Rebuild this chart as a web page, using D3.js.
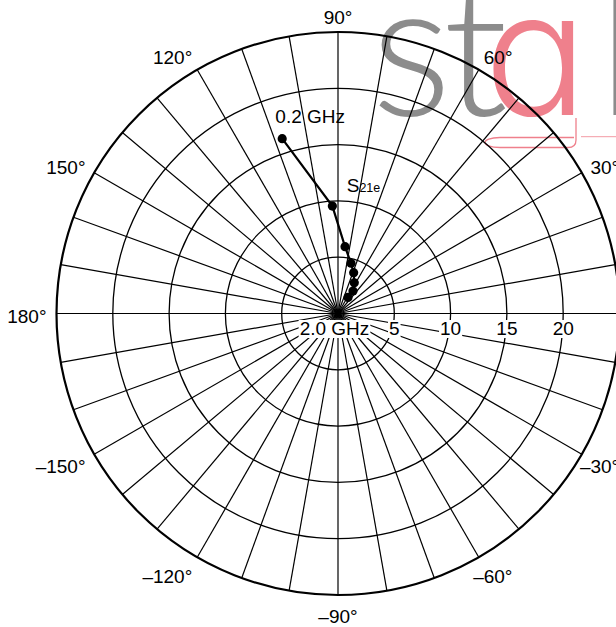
<!DOCTYPE html>
<html>
<head>
<meta charset="utf-8">
<script src="https://cdn.jsdelivr.net/npm/d3@7"></script>
<style>
  html, body { margin: 0; padding: 0; background: #fff; }
  svg { display: block; }
  text { font-family: "Liberation Sans", Arial, Helvetica, sans-serif; fill: #000; }
</style>
</head>
<body>
<div id="chart"></div>
<script>
// S21e vs frequency (magnitude, angle in degrees)
const freqGHz = [0.2, 0.4, 0.6, 0.8, 1.0, 1.2, 1.5, 2.0];
const s21Mag  = [16.3, 9.55, 5.97, 4.61, 3.88, 3.09, 2.40, 1.68];
const s21Ang  = [107.7, 93.0, 84.0, 75.5, 69.0, 62.1, 56.3, 58.0];

const ringValues  = [5, 10, 15, 20, 25];
const ringLabels  = [5, 10, 15, 20];
const angleLabels = [90, 60, 30, 120, 150, 180, -150, -120, -90, -60, -30];

const w = 616;
const h = 627;
const cx = 338;
const cy = 313.5;
const R = 281.5;
const fs = 19;

const rScale = d3.scaleLinear().domain([0, 25]).range([0, R]);
const rad = (deg) => deg * Math.PI / 180;
const polar = (r, deg) => [cx + rScale(r) * Math.cos(rad(deg)), cy - rScale(r) * Math.sin(rad(deg))];

const fmtAngle = (d) => (d < 0 ? '\u2013' + Math.abs(d) : d) + '\u00b0';

const svg = d3.select('#chart')
    .append('svg')
    .attr('width', w)
    .attr('height', h);

// watermark behind the chart
const wm = svg.append('g').attr('class', 'watermark');
wm.append('text')
    .attr('y', 115)
    .style('font-family', 'Lato, "Open Sans", sans-serif')
    .style('font-weight', 300)
    .style('font-size', '190px')
    .call(t => {
        t.append('tspan').attr('x', 371).style('fill', '#8c8c8c').text('s');
        t.append('tspan').attr('x', 443).style('fill', '#8c8c8c').text('t');
        t.append('tspan').attr('x', 484)
            .style('fill', '#ef808c')
            .style('font-family', 'Inter, sans-serif')
            .style('font-size', '172px')
            .style('font-feature-settings', '"cv11" 1')
            .text('a');
        t.append('tspan').attr('x', 597).style('fill', '#8c8c8c').text('l');
    });
wm.append('path')
    .attr('d', 'M576,118 L576,140 Q576,147.5 568,147.5 L500,147.5 C480,147.5 480,137.5 500,137.5 L574,137.5')
    .attr('fill', 'none')
    .attr('stroke', '#ef808c')
    .attr('stroke-width', 1.3);
wm.append('path')
    .attr('d', 'M581,136.7 L616,136.7')
    .attr('stroke', '#ef808c')
    .attr('stroke-width', 0.8);

// grid
const grid = svg.append('g').attr('class', 'grid');

grid.selectAll('line.spoke')
    .data(d3.range(0, 360, 10))
    .enter()
    .append('line')
    .attr('class', 'spoke')
    .attr('x1', cx)
    .attr('y1', cy)
    .attr('x2', d => polar(25, d)[0])
    .attr('y2', d => polar(25, d)[1])
    .attr('stroke', '#000')
    .attr('stroke-width', 1.2);

// horizontal axis runs to the right edge
grid.append('line')
    .attr('x1', cx)
    .attr('y1', cy)
    .attr('x2', w)
    .attr('y2', cy)
    .attr('stroke', '#000')
    .attr('stroke-width', 1.2);

grid.selectAll('circle.ring')
    .data(ringValues)
    .enter()
    .append('circle')
    .attr('class', 'ring')
    .attr('cx', cx)
    .attr('cy', cy)
    .attr('r', d => rScale(d))
    .attr('fill', 'none')
    .attr('stroke', '#000')
    .attr('stroke-width', d => d === 25 ? 2.2 : 1.3);

// labels sitting on the grid get a white knock-out
const knockLabel = (g, x, y, txt) => {
    const t = g.append('text')
        .attr('x', x)
        .attr('y', y)
        .attr('text-anchor', 'middle')
        .style('font-size', fs + 'px')
        .text(txt);
    const b = t.node().getBBox();
    g.insert('rect', 'text')
        .attr('x', b.x - 1)
        .attr('y', y - 15)
        .attr('width', b.width + 2)
        .attr('height', 18)
        .attr('fill', '#fff');
};

const ringG = svg.append('g').attr('class', 'ring-labels');
ringLabels.forEach(v => {
    const g = ringG.append('g');
    knockLabel(g, polar(v, 0)[0], cy + 21.5, v);
});
knockLabel(ringG.append('g'), cx - 3.5, cy + 21.5, freqGHz[freqGHz.length - 1].toFixed(1) + ' GHz');

// angle labels round the outside
svg.append('g')
    .attr('class', 'angle-labels')
    .selectAll('text')
    .data(angleLabels)
    .enter()
    .append('text')
    .attr('x', d => cx + (R + 10) * Math.cos(rad(d)))
    .attr('y', d => cy - (R + 10) * Math.sin(rad(d)) - Math.sin(rad(d)) * 8 + 3 + 0.358 * fs)
    .attr('dx', d => (Math.cos(rad(d)) > 0.05 && d < 0) ? '-0.556em' : 0)
    .attr('text-anchor', d => {
        const c = Math.cos(rad(d));
        return c > 0.05 ? 'start' : c < -0.05 ? 'end' : 'middle';
    })
    .style('font-size', fs + 'px')
    .text(fmtAngle);

// data
const pts = freqGHz.map((f, i) => polar(s21Mag[i], s21Ang[i]));

svg.append('path')
    .datum(pts)
    .attr('d', d3.line())
    .attr('fill', 'none')
    .attr('stroke', '#000')
    .attr('stroke-width', 2.2);

svg.selectAll('circle.pt')
    .data(pts)
    .enter()
    .append('circle')
    .attr('class', 'pt')
    .attr('cx', d => d[0])
    .attr('cy', d => d[1])
    .attr('r', 4.6)
    .attr('fill', '#000');

// annotations
svg.append('text')
    .attr('x', pts[0][0] + 28)
    .attr('y', pts[0][1] - 16)
    .attr('text-anchor', 'middle')
    .style('font-size', fs + 'px')
    .text(freqGHz[0].toFixed(1) + ' GHz');

const sLab = polar(10.8, 85.9);
svg.append('text')
    .attr('x', sLab[0])
    .attr('y', sLab[1])
    .style('font-size', fs + 'px')
    .call(t => {
        t.append('tspan').text('S');
        t.append('tspan').style('font-size', '12.5px').text('21e');
    });
</script>
</body>
</html>
